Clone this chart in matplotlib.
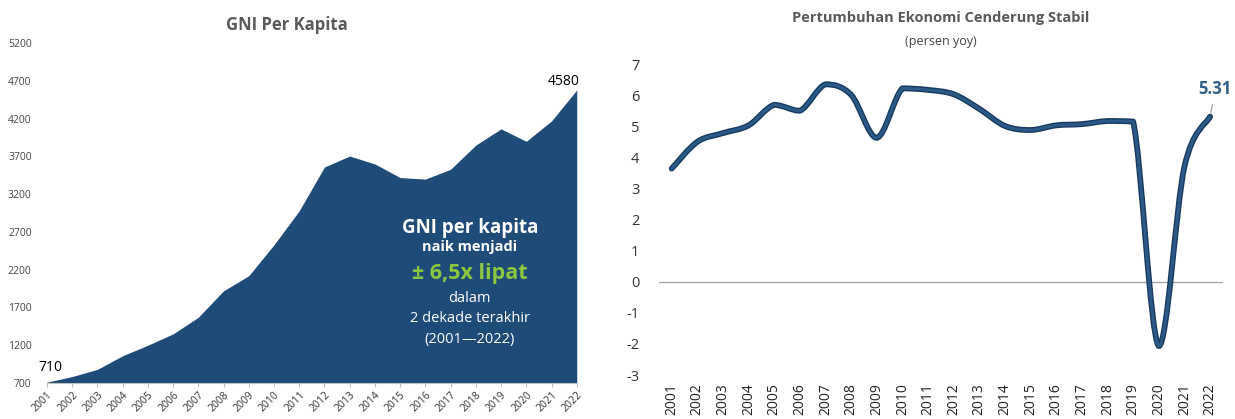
import matplotlib.pyplot as plt
import numpy as np
from matplotlib.path import Path
from matplotlib.patches import PathPatch

plt.rcParams['font.family'] = ['Open Sans', 'DejaVu Sans']
plt.rcParams['axes.unicode_minus'] = False

years = list(range(2001, 2023))
gni = [710, 785, 880, 1060, 1200, 1350, 1570, 1920, 2120, 2530, 2980,
       3560, 3705, 3600, 3420, 3400, 3530, 3850, 4065, 3900, 4170, 4580]
growth = [3.64, 4.50, 4.78, 5.03, 5.69, 5.50, 6.35, 6.01, 4.63, 6.22, 6.17,
          6.03, 5.56, 5.01, 4.88, 5.03, 5.07, 5.17, 5.15, -2.07, 3.70, 5.31]

navy = '#1f4b79'
gray = '#595959'

fig = plt.figure(figsize=(12.35, 4.19), dpi=100)

# ---- left: GNI per kapita (area)
ax1 = fig.add_axes([0.038, 0.086, 0.429, 0.811])
ax1.fill_between(years, gni, 700, color=navy, lw=0)
ax1.set_xlim(2001, 2022)
ax1.set_ylim(700, 5200)
ax1.set_yticks(range(700, 5201, 500))
ax1.set_xticks(years)
ax1.set_xticklabels([str(y) for y in years], rotation=45, ha='right',
                    rotation_mode='anchor', fontsize=7.5, color='#333333')
ax1.tick_params(axis='y', length=0, labelsize=7.5, labelcolor='#444444', pad=11)
ax1.tick_params(axis='x', length=3, color='#bfbfbf', pad=2)
for s in ['top', 'right', 'left']:
    ax1.spines[s].set_visible(False)
ax1.spines['bottom'].set_color('#bfbfbf')
fig.text(287 / 1235, 1 - 25 / 419, 'GNI Per Kapita', fontsize=12, fontweight='bold',
         color=gray, ha='center', va='center')

ax1.annotate(str(gni[0]), (years[0], gni[0]), xytext=(-6, 5), textcoords='offset points',
             fontsize=10, color='black', ha='left', va='bottom')
ax1.annotate(str(gni[-1]), (years[-1], gni[-1]), xytext=(2, 1), textcoords='offset points',
             fontsize=10, color='black', ha='right', va='bottom')

cx = 0.798
ax1.text(cx, 0.456, 'GNI per kapita', transform=ax1.transAxes, ha='center', va='center',
         color='white', fontsize=13.5, fontweight='bold')
ax1.text(cx, 0.400, 'naik menjadi', transform=ax1.transAxes, ha='center', va='center',
         color='white', fontsize=10.5, fontweight='bold')
ax1.text(cx, 0.321, '± 6,5x lipat', transform=ax1.transAxes, ha='center', va='center',
         color='#8dc63f', fontsize=15.5, fontweight='bold')
ax1.text(cx, 0.250, 'dalam', transform=ax1.transAxes, ha='center', va='center',
         color='white', fontsize=10.5)
ax1.text(cx, 0.191, '2 dekade terakhir', transform=ax1.transAxes, ha='center', va='center',
         color='white', fontsize=10.5)
ax1.text(cx, 0.129, '(2001\u20142022)', transform=ax1.transAxes, ha='center', va='center',
         color='white', fontsize=10.5)

# ---- right: pertumbuhan ekonomi (smoothed line)
ax2 = fig.add_axes([0.5335, 0.105, 0.4567, 0.742])
ax2.set_xlim(2000.5, 2022.5)
ax2.set_ylim(-3, 7)

# smoothed line: Catmull-Rom -> cubic Bezier, control points clamped to avoid overshoot
x = np.array(years, dtype=float)
y = np.array(growth, dtype=float)
verts = [(x[0], y[0])]
codes = [Path.MOVETO]
n = len(x)
for i in range(n - 1):
    i0, i3 = max(i - 1, 0), min(i + 2, n - 1)
    t = 1 / 6
    lo, hi = min(y[i], y[i + 1]), max(y[i], y[i + 1])
    c1y = np.clip(y[i] + (y[i + 1] - y[i0]) * t, lo, hi)
    c2y = np.clip(y[i + 1] - (y[i3] - y[i]) * t, lo, hi)
    c1x = x[i] + (x[i + 1] - x[i0]) * t
    c2x = x[i + 1] - (x[i3] - x[i]) * t
    verts += [(c1x, c1y), (c2x, c2y), (x[i + 1], y[i + 1])]
    codes += [Path.CURVE4] * 3
ax2.add_patch(PathPatch(Path(verts, codes), fill=False, edgecolor='#173a5e', lw=4.2,
                        capstyle='round', joinstyle='round'))
ax2.add_patch(PathPatch(Path(verts, codes), fill=False, edgecolor='#2a5a88', lw=2.2,
                        capstyle='round', joinstyle='round'))

ax2.axhline(0, color='#a6a6a6', lw=1, zorder=0)
ax2.set_yticks(range(-3, 8))
ax2.set_xticks(years)
ax2.set_xticklabels([str(v) for v in years], rotation=90, fontsize=10, color='#222222')
ax2.tick_params(axis='y', length=0, labelsize=10.5, labelcolor='#333333', pad=14)
ax2.tick_params(axis='x', length=0, pad=6)
for s in ax2.spines.values():
    s.set_visible(False)
fig.text(941 / 1235, 1 - 18 / 419, 'Pertumbuhan Ekonomi Cenderung Stabil', fontsize=10.5,
         fontweight='bold', color=gray, ha='center', va='center')
fig.text(941 / 1235, 1 - 41 / 419, '(persen yoy)', fontsize=9, color='#444444',
         ha='center', va='center')

ax2.annotate(f'{growth[-1]:.2f}', xy=(years[-1], growth[-1]),
             xytext=(years[-1] + 0.2, 6.2), textcoords='data',
             fontsize=12, fontweight='bold', color='#2e6089', ha='center', va='center',
             arrowprops=dict(arrowstyle='-', color='#a6a6a6', lw=1, shrinkA=3, shrinkB=3),
             annotation_clip=False)

fig.savefig('out.png', dpi=100)
